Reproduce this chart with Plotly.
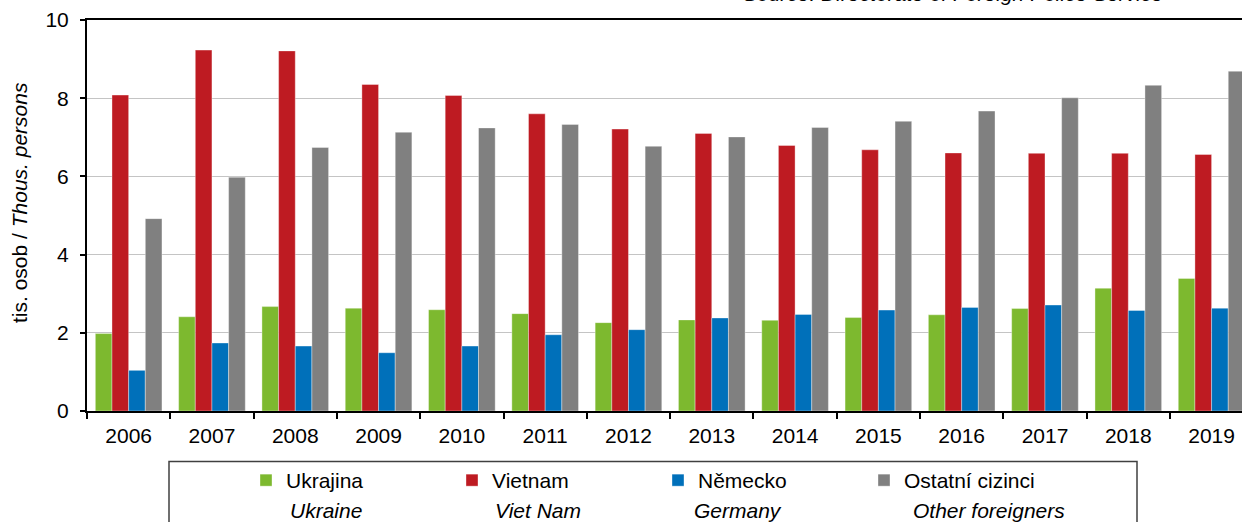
"""Cizinci podle státního občanství, 2006–2019 – sloupcový graf v Plotly."""

import plotly.graph_objects as go

years = [str(y) for y in range(2006, 2020)]

ukrajina = [1.98, 2.41, 2.67, 2.63, 2.59, 2.49, 2.26, 2.33, 2.32, 2.39, 2.46, 2.62, 3.14, 3.39]
vietnam = [8.08, 9.23, 9.21, 8.35, 8.07, 7.60, 7.21, 7.10, 6.79, 6.68, 6.60, 6.59, 6.59, 6.56]
nemecko = [1.04, 1.74, 1.66, 1.49, 1.66, 1.95, 2.08, 2.38, 2.47, 2.58, 2.65, 2.71, 2.57, 2.63]
ostatni = [4.92, 5.98, 6.74, 7.13, 7.24, 7.33, 6.77, 7.01, 7.25, 7.41, 7.67, 8.01, 8.33, 8.69]

names_cz = ["Ukrajina", "Vietnam", "Německo", "Ostatní cizinci"]
names_en = ["Ukraine", "Viet Nam", "Germany", "Other foreigners"]
colors = ["#7DB92F", "#BE1B22", "#0070BA", "#808080"]

FONT = "Liberation Sans, Arial, sans-serif"
FONT_SIZE = 21

figure = go.Figure()
for values, name, color in zip((ukrajina, vietnam, nemecko, ostatni), names_cz, colors):
    figure.add_trace(
        go.Bar(
            x=years,
            y=values,
            name=name,
            marker={"color": color, "line": {"color": "rgba(255,255,255,0.6)", "width": 0.6}},
        )
    )


def _text(text, x_px, y_px, xanchor="left", angle=0):
    """Popisek umístěný v pixelech obrázku (plocha grafu: x 87–1242, y 20–411)."""
    return {
        "text": text,
        "xref": "paper",
        "yref": "paper",
        "x": (x_px - 87) / 1155,
        "y": (411 - y_px) / 391,
        "xanchor": xanchor,
        "yanchor": "middle",
        "textangle": angle,
        "showarrow": False,
        "font": {"size": FONT_SIZE, "family": FONT, "color": "#000"},
    }


# anglické popisky pod legendou
en_x = [288, 493, 692, 911]
annotations = [_text(f"<i>{label}</i>", px, 510) for label, px in zip(names_en, en_x)]
annotations.append(
    _text("<i>Source: Directorate of Foreign Police Service</i>", 1165, -6, xanchor="right")
)
annotations.append(_text("tis. osob / <i>Thous. persons</i>", 20, 203, xanchor="center", angle=-90))

figure.update_layout(
    width=1242,
    height=522,
    margin={"l": 87, "r": 0, "t": 20, "b": 111},
    paper_bgcolor="white",
    plot_bgcolor="white",
    font={"family": FONT, "size": FONT_SIZE, "color": "#000"},
    barmode="group",
    bargap=0.2,
    bargroupgap=0,
    showlegend=True,
    legend={
        "orientation": "h",
        "x": (246 - 87) / 1155,
        "y": (411 - 460) / 391,
        "xanchor": "left",
        "yanchor": "top",
        "entrywidth": 161,
        "entrywidthmode": "pixels",
        "itemwidth": 30,
        "font": {"size": FONT_SIZE, "family": FONT},
        "bgcolor": "rgba(0,0,0,0)",
    },
    shapes=[
        {
            "type": "rect",
            "xref": "paper",
            "yref": "paper",
            "x0": (169 - 87) / 1155,
            "x1": (1137 - 87) / 1155,
            "y0": (411 - 461.5) / 391,
            "y1": -0.4,
            "line": {"color": "#404040", "width": 1.5},
        }
    ],
    annotations=annotations,
)

figure.update_xaxes(
    type="category",
    range=[-0.5, 13.365],
    showline=True,
    linecolor="black",
    linewidth=2,
    mirror=True,
    ticks="outside",
    tickson="boundaries",
    ticklen=6,
    tickwidth=2,
    tickcolor="black",
    ticklabelstandoff=5,
    showgrid=False,
)
figure.update_yaxes(
    range=[0, 10],
    dtick=2,
    showline=True,
    linecolor="black",
    linewidth=2,
    ticks="outside",
    ticklen=5,
    tickwidth=1.5,
    tickcolor="black",
    ticklabelstandoff=7,
    showgrid=True,
    gridcolor="#C4C4C4",
    gridwidth=1,
    zeroline=False,
)

# stránka bez výchozího okraje, aby graf seděl přesně do okna
figure.write_html(
    "out.html",
    config={"displayModeBar": False},
    post_script="document.body.style.margin = '0';",
)
